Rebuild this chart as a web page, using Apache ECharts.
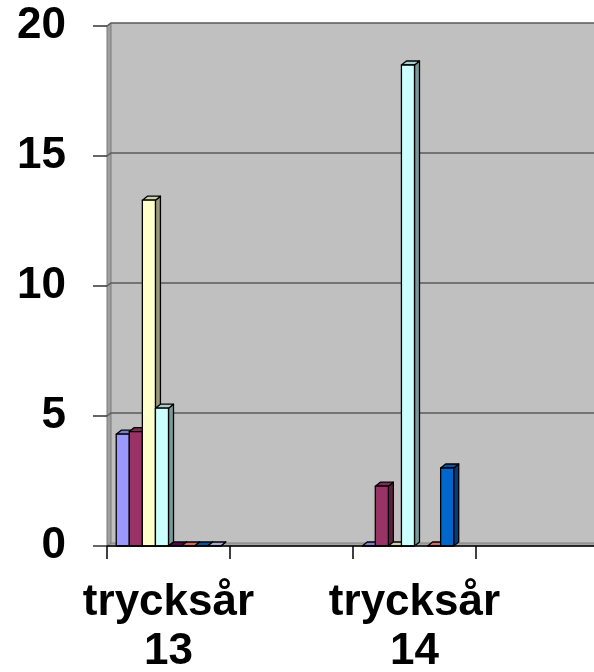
<!DOCTYPE html>
<html>
<head>
<meta charset="utf-8">
<script src="https://cdn.jsdelivr.net/npm/echarts@6/dist/echarts.min.js"></script>
<style>html,body{margin:0;padding:0;background:#fff}#c{width:594px;height:672px}</style>
</head>
<body>
<div id="c"></div>
<script>
// Categories (2nd and 4th labels are hidden in the reference)
var categories = ['trycksår 13', '', 'trycksår 14', ''];
// Series values per category (null = no bar)
var s1 = [4.3, null, 0, null];
var s2 = [4.4, null, 2.3, null];
var s3 = [13.3, null, 0, null];
var s4 = [5.3, null, 18.5, null];
var s5 = [0, null, null, null];
var s6 = [0, null, 0, null];
var s7 = [0, null, 3.0, null];
var s8 = [0, null, null, null];
var seriesValues = [s1, s2, s3, s4, s5, s6, s7, s8];
var seriesColors = ['#9999FF', '#993366', '#FFFFCC', '#CCFFFF', '#660066', '#FF8080', '#0066CC', '#CCCCFF'];
var yTicks = [0, 5, 10, 15, 20];

function shade(hex, f) {
  var n = parseInt(hex.slice(1), 16);
  var r = (n >> 16) & 255, g = (n >> 8) & 255, b = n & 255;
  r = Math.round(r * f); g = Math.round(g * f); b = Math.round(b * f);
  return 'rgb(' + r + ',' + g + ',' + b + ')';
}

var WDX = 4, WDY = -3;   // wall depth
var BDX = 5, BDY = -4;   // bar depth
var NS = seriesValues.length;

var wallSeries = {
  type: 'custom',
  z: 1,
  silent: true,
  data: [[0, 0]],
  renderItem: function (params, api) {
    var cs = params.coordSys;
    var left = cs.x, right = cs.x + cs.width;
    var y0 = api.coord([0, 0])[1];
    var yTop = api.coord([0, yTicks[yTicks.length - 1]])[1];
    var children = [];
    children.push({ type: 'rect', shape: { x: left + WDX, y: yTop + WDY, width: right - left + 20, height: y0 - yTop },
      style: { fill: '#C0C0C0' } });
    children.push({ type: 'polygon', shape: { points: [[left, y0], [left + WDX, y0 + WDY], [left + WDX, yTop + WDY], [left, yTop]] },
      style: { fill: '#A0A0A0', stroke: '#7A7A7A', lineWidth: 1 } });
    children.push({ type: 'polygon', shape: { points: [[left, y0], [right + 20, y0], [right + 20 + WDX, y0 + WDY], [left + WDX, y0 + WDY]] },
      style: { fill: '#A6A6A6', stroke: '#808080', lineWidth: 1 } });
    for (var i = 1; i < yTicks.length; i++) {
      var yy = api.coord([0, yTicks[i]])[1];
      children.push({ type: 'polyline', shape: { points: [[left, yy], [left + WDX, yy + WDY], [right + 20, yy + WDY]] },
        style: { stroke: '#5A5A5A', lineWidth: 1.5, fill: null } });
    }
    return { type: 'group', children: children };
  }
};

function makeBarSeries(si) {
  var vals = seriesValues[si];
  var data = [];
  for (var c = 0; c < vals.length; c++) if (vals[c] !== null) data.push([c, vals[c]]);
  var col = seriesColors[si];
  return {
    type: 'custom',
    z: 3,
    data: data,
    encode: { x: 0, y: 1 },
    renderItem: function (params, api) {
      var cat = api.value(0), v = api.value(1);
      var band = api.size([1, 0])[0];
      var center = api.coord([cat, 0])[0];
      var bw = band * 0.85 / NS;
      var x0 = center - bw * NS / 2 + si * bw;
      var yb = api.coord([cat, 0])[1];
      var yt = api.coord([cat, v])[1];
      var st = { stroke: '#000', lineWidth: 1.3, lineJoin: 'round' };
      var ch = [];
      ch.push({ type: 'polygon', shape: { points: [[x0 + bw, yt], [x0 + bw + BDX, yt + BDY], [x0 + bw + BDX, yb + BDY], [x0 + bw, yb]] },
        style: Object.assign({ fill: shade(col, 0.6) }, st) });
      ch.push({ type: 'polygon', shape: { points: [[x0, yt], [x0 + BDX, yt + BDY], [x0 + bw + BDX, yt + BDY], [x0 + bw, yt]] },
        style: Object.assign({ fill: shade(col, 0.82) }, st) });
      if (yb - yt > 0.5) {
        ch.push({ type: 'rect', shape: { x: x0, y: yt, width: bw, height: yb - yt },
          style: Object.assign({ fill: col }, st) });
      }
      return { type: 'group', children: ch };
    }
  };
}

var series = [wallSeries];
for (var i = 0; i < NS; i++) series.push(makeBarSeries(i));

var chart = echarts.init(document.getElementById('c'), null, { renderer: 'canvas' });
chart.setOption({
  animation: false,
  backgroundColor: '#ffffff',
  grid: { left: 107, width: 492, top: 26, height: 520, containLabel: false, outerBoundsMode: 'none' },
  xAxis: {
    type: 'category',
    data: categories,
    z: 10,
    axisLine: { show: true, lineStyle: { color: '#000', width: 1.5 } },
    axisTick: { show: true, interval: 0, length: 13, lineStyle: { color: '#000', width: 1.5 } },
    axisLabel: {
      interval: 0, margin: 32,
      fontFamily: 'Liberation Sans, Arial, sans-serif', fontWeight: 'bold', fontSize: 44, lineHeight: 49,
      color: '#000',
      formatter: function (v) { return v.replace(' ', '\n'); }
    },
    splitLine: { show: false }
  },
  yAxis: {
    type: 'value',
    min: 0, max: 20, interval: 5,
    z: 10,
    axisLine: { show: false },
    axisTick: { show: true, length: 14, lineStyle: { color: '#333', width: 1.5 } },
    axisLabel: {
      margin: 41,
      fontFamily: 'Liberation Sans, Arial, sans-serif', fontWeight: 'bold', fontSize: 44,
      color: '#000'
    },
    splitLine: { show: false }
  },
  series: series
});
</script>
</body>
</html>
